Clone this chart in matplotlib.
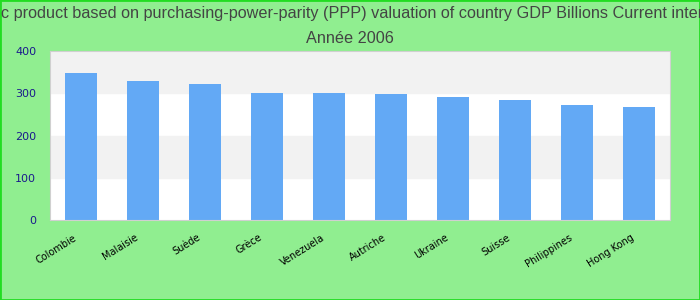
import matplotlib
matplotlib.use('Agg')
import matplotlib.pyplot as plt
import matplotlib.transforms as mtransforms
from matplotlib.patches import Rectangle

# data
countries = ['Colombie', 'Malaisie', 'Suède', 'Grèce', 'Venezuela',
             'Autriche', 'Ukraine', 'Suisse', 'Philippines', 'Hong Kong']
gdp_ppp = [348, 329, 322, 301, 300, 298, 291, 284, 272, 267]
y_ticks = [0, 100, 200, 300, 400]

title = ('Gross domestic product based on purchasing-power-parity (PPP) valuation '
         'of country GDP Billions Current international dollar\nAnnée 2006')

fig = plt.figure(figsize=(7, 3), dpi=100, facecolor='#90ee90')
ax = fig.add_axes([50 / 700, 80 / 300, 620 / 700, 169 / 300])
ax.set_facecolor('white')

# alternating horizontal bands
for i in range(len(y_ticks) - 1):
    if i % 2 == 1:
        ax.axhspan(y_ticks[i], y_ticks[i + 1], color='#f2f2f2', zorder=0)

x = range(len(countries))
ax.bar(x, gdp_ppp, width=0.52, color='#63a9f5', zorder=2)

ax.set_xlim(-0.5, len(countries) - 0.5)
ax.set_ylim(0, 400)
ax.set_yticks(y_ticks)
ax.tick_params(axis='y', length=0, colors='#1a1a8c', labelsize=8, pad=10)
ax.set_xticks(list(x))
ax.set_xticklabels(countries, rotation=32, ha='right', fontsize=7, rotation_mode='anchor')
ax.tick_params(axis='x', length=0, pad=9)
shift = mtransforms.ScaledTranslation(-8 / 100, 0, fig.dpi_scale_trans)
for lbl in ax.get_xticklabels():
    lbl.set_transform(lbl.get_transform() + shift)
for s in ax.spines.values():
    s.set_color('#d0d0d0')

fig.text(0.5, 0.98, title, ha='center', va='top', fontsize=11.7, color='#444444',
         linespacing=1.85, family='Liberation Sans')

fig.patches.append(Rectangle((0, 0), 1, 1, transform=fig.transFigure, fill=False,
                             edgecolor='#22dd22', linewidth=2))

fig.savefig('out.png', dpi=100, facecolor=fig.get_facecolor())
